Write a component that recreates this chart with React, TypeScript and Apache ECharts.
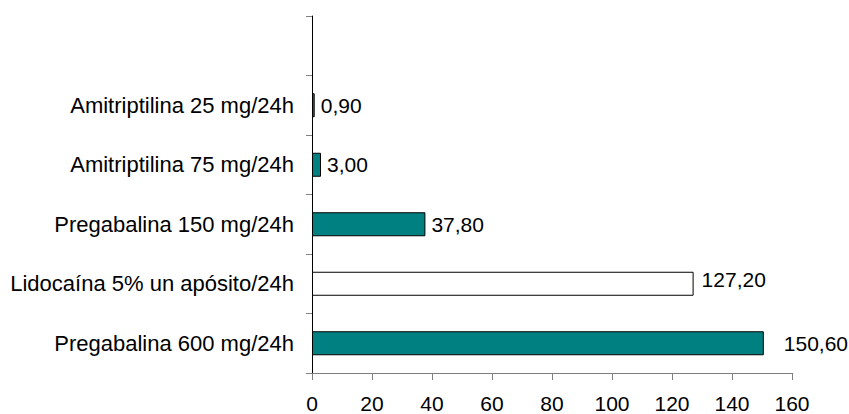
import React, { useEffect, useRef } from "react";
import * as echarts from "echarts";

const categories = [
  "Pregabalina 600 mg/24h",
  "Lidocaína 5% un apósito/24h",
  "Pregabalina 150 mg/24h",
  "Amitriptilina 75 mg/24h",
  "Amitriptilina 25 mg/24h",
  "",
];
const values: (number | null)[] = [150.6, 127.2, 37.8, 3.0, 0.9, null];
const barColors = ["#008080", "#ffffff", "#008080", "#008080", "#008080", "#008080"];
const xTicks = { min: 0, max: 160, interval: 20 };

export default function App() {
  const ref = useRef<HTMLDivElement>(null);
  useEffect(() => {
    if (!ref.current) return;
    const chart = echarts.init(ref.current, null, { renderer: "svg" });
    const font = "'Liberation Sans', Arial, sans-serif";
    chart.setOption({
      animation: false,
      backgroundColor: "#ffffff",
      grid: { left: 312, right: 57, top: 16, bottom: 38, containLabel: false },
      xAxis: {
        type: "value",
        min: xTicks.min,
        max: xTicks.max,
        interval: xTicks.interval,
        splitLine: { show: false },
        axisLine: { show: true, lineStyle: { color: "#808080", width: 1 } },
        axisTick: { show: true, length: 7, lineStyle: { color: "#808080" } },
        axisLabel: { color: "#000", fontSize: 21, fontFamily: font, margin: 20 },
      },
      yAxis: {
        type: "category",
        data: categories,
        axisLine: { show: true, lineStyle: { color: "#000", width: 1 } },
        axisTick: { show: true, length: 6, lineStyle: { color: "#808080" } },
        axisLabel: { color: "#000", fontSize: 22, fontFamily: font, margin: 18 },
      },
      series: [
        {
          type: "bar",
          barWidth: 24,
          data: values.map((v, i) => {
            const item: any = {
              value: v,
              itemStyle: { color: barColors[i], borderColor: "#000", borderWidth: 1 },
            };
            if (v !== null && v > 150) item.label = { distance: 20 };
            if (v !== null && v > 120 && v < 150) item.label = { distance: 8, offset: [0, -4] };
            return item;
          }),
          label: {
            show: true,
            position: "right",
            distance: 6,
            color: "#000",
            fontSize: 21,
            fontFamily: font,
            formatter: (p: any) =>
              p.value === null || p.value === undefined ? "" : Number(p.value).toFixed(2).replace(".", ","),
          },
        },
      ],
    });
    return () => chart.dispose();
  }, []);
  return (
    <div
      ref={ref}
      style={{ position: "fixed", left: 0, top: 0, width: 849, height: 414 }}
    />
  );
}
